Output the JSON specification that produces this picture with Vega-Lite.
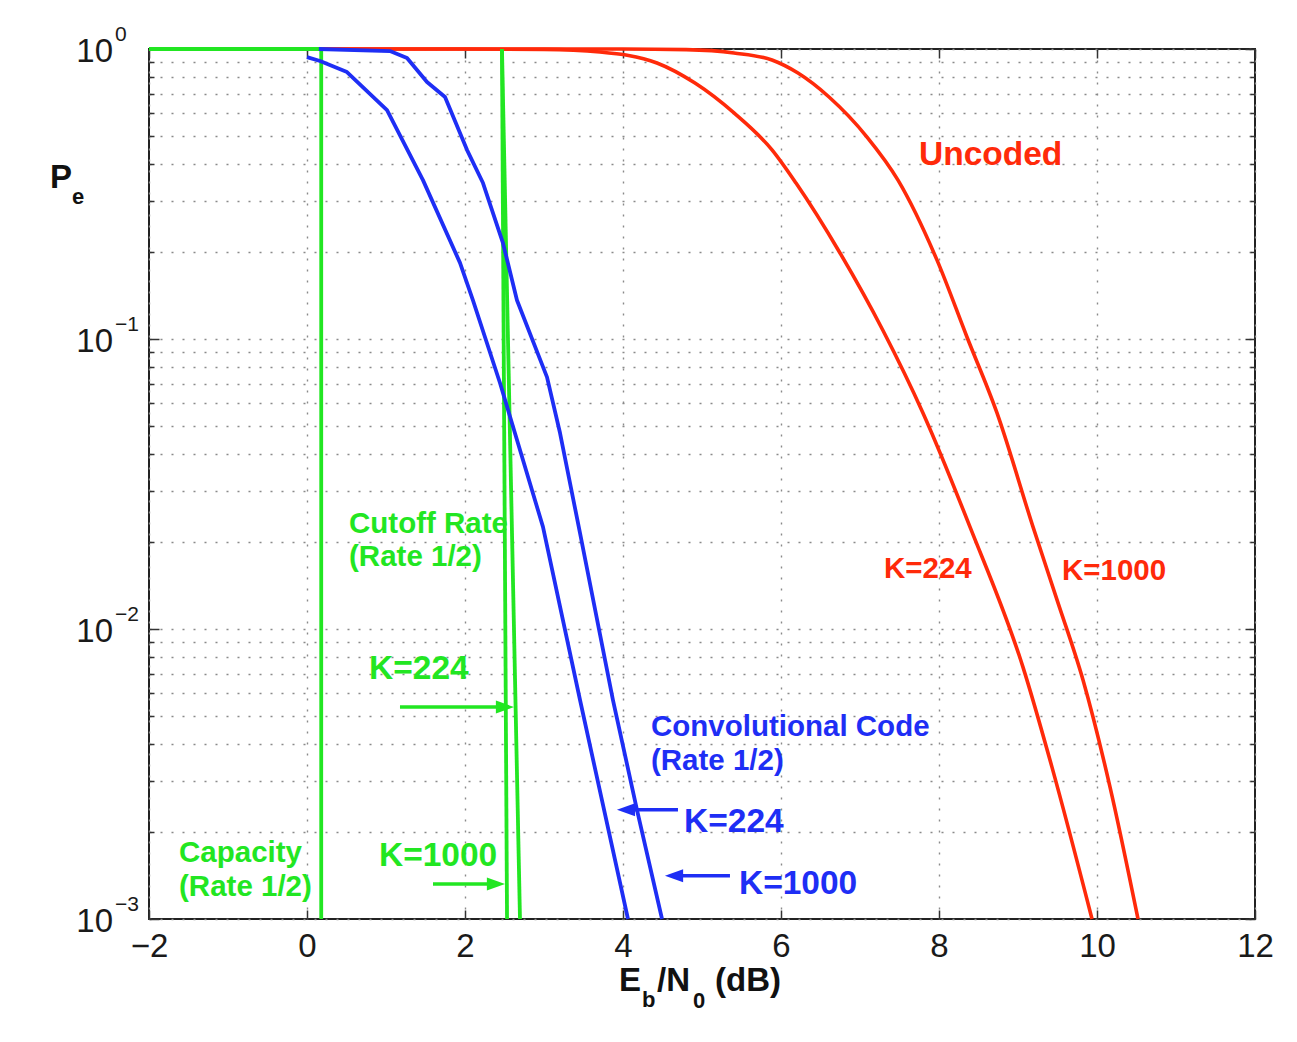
{
  "$schema": "https://vega.github.io/schema/vega-lite/v6.json",
  "width": 1106,
  "height": 870,
  "autosize": {"type": "none"},
  "padding": {"left": 149, "top": 49, "right": 42, "bottom": 123},
  "background": "white",
  "config": {
    "font": "Liberation Sans",
    "view": {"stroke": "#222222", "strokeWidth": 2},
    "axis": {"labelFont": "Liberation Sans", "domain": false}
  },
  "datasets": {
    "curves": [
      {"s": "unc224", "g": "red", "i": 0, "x": -2, "p": 1},
      {"s": "unc224", "g": "red", "i": 1, "x": 2, "p": 1},
      {"s": "unc224", "g": "red", "i": 2, "x": 3, "p": 0.997},
      {"s": "unc224", "g": "red", "i": 3, "x": 3.709, "p": 0.976},
      {"s": "unc224", "g": "red", "i": 4, "x": 4.43, "p": 0.895},
      {"s": "unc224", "g": "red", "i": 5, "x": 4.911, "p": 0.763},
      {"s": "unc224", "g": "red", "i": 6, "x": 5.405, "p": 0.602},
      {"s": "unc224", "g": "red", "i": 7, "x": 5.886, "p": 0.449},
      {"s": "unc224", "g": "red", "i": 8, "x": 6.19, "p": 0.345},
      {"s": "unc224", "g": "red", "i": 9, "x": 6.747, "p": 0.198},
      {"s": "unc224", "g": "red", "i": 10, "x": 7.291, "p": 0.107},
      {"s": "unc224", "g": "red", "i": 11, "x": 7.797, "p": 0.0556},
      {"s": "unc224", "g": "red", "i": 12, "x": 8.392, "p": 0.0225},
      {"s": "unc224", "g": "red", "i": 13, "x": 9.063, "p": 0.00739},
      {"s": "unc224", "g": "red", "i": 14, "x": 9.43, "p": 0.00334},
      {"s": "unc224", "g": "red", "i": 15, "x": 9.937, "p": 0.001},
      {"s": "unc1000", "g": "red", "i": 0, "x": -2, "p": 1},
      {"s": "unc1000", "g": "red", "i": 1, "x": 4, "p": 1},
      {"s": "unc1000", "g": "red", "i": 2, "x": 4.8, "p": 0.995},
      {"s": "unc1000", "g": "red", "i": 3, "x": 5.405, "p": 0.969},
      {"s": "unc1000", "g": "red", "i": 4, "x": 5.886, "p": 0.916},
      {"s": "unc1000", "g": "red", "i": 5, "x": 6.215, "p": 0.826},
      {"s": "unc1000", "g": "red", "i": 6, "x": 6.608, "p": 0.683},
      {"s": "unc1000", "g": "red", "i": 7, "x": 7.089, "p": 0.497},
      {"s": "unc1000", "g": "red", "i": 8, "x": 7.481, "p": 0.353},
      {"s": "unc1000", "g": "red", "i": 9, "x": 7.975, "p": 0.187},
      {"s": "unc1000", "g": "red", "i": 10, "x": 8.354, "p": 0.1016},
      {"s": "unc1000", "g": "red", "i": 11, "x": 8.734, "p": 0.0556},
      {"s": "unc1000", "g": "red", "i": 12, "x": 9.19, "p": 0.0225},
      {"s": "unc1000", "g": "red", "i": 13, "x": 9.494, "p": 0.0126},
      {"s": "unc1000", "g": "red", "i": 14, "x": 9.823, "p": 0.00667},
      {"s": "unc1000", "g": "red", "i": 15, "x": 10.165, "p": 0.00285},
      {"s": "unc1000", "g": "red", "i": 16, "x": 10.519, "p": 0.001},
      {"s": "cap", "g": "green", "i": 0, "x": -2, "p": 1},
      {"s": "cap", "g": "green", "i": 1, "x": 0.18, "p": 1},
      {"s": "cap", "g": "green", "i": 2, "x": 0.18, "p": 0.001},
      {"s": "cut1000", "g": "green", "i": 0, "x": 2.468, "p": 1},
      {"s": "cut1000", "g": "green", "i": 1, "x": 2.532, "p": 0.001},
      {"s": "cut224", "g": "green", "i": 0, "x": 2.468, "p": 1},
      {"s": "cut224", "g": "green", "i": 1, "x": 2.696, "p": 0.001},
      {"s": "conv224", "g": "blue", "i": 0, "x": 0, "p": 0.938},
      {"s": "conv224", "g": "blue", "i": 1, "x": 0.165, "p": 0.909},
      {"s": "conv224", "g": "blue", "i": 2, "x": 0.506, "p": 0.833},
      {"s": "conv224", "g": "blue", "i": 3, "x": 1.013, "p": 0.616},
      {"s": "conv224", "g": "blue", "i": 4, "x": 1.468, "p": 0.353},
      {"s": "conv224", "g": "blue", "i": 5, "x": 1.937, "p": 0.183},
      {"s": "conv224", "g": "blue", "i": 6, "x": 2.101, "p": 0.136},
      {"s": "conv224", "g": "blue", "i": 7, "x": 2.443, "p": 0.0705},
      {"s": "conv224", "g": "blue", "i": 8, "x": 2.987, "p": 0.0225},
      {"s": "conv224", "g": "blue", "i": 9, "x": 3.456, "p": 0.00569},
      {"s": "conv224", "g": "blue", "i": 10, "x": 4.063, "p": 0.001},
      {"s": "conv1000", "g": "blue", "i": 0, "x": 0.15, "p": 1},
      {"s": "conv1000", "g": "blue", "i": 1, "x": 1.05, "p": 0.984},
      {"s": "conv1000", "g": "blue", "i": 2, "x": 1.266, "p": 0.931},
      {"s": "conv1000", "g": "blue", "i": 3, "x": 1.519, "p": 0.769},
      {"s": "conv1000", "g": "blue", "i": 4, "x": 1.747, "p": 0.683},
      {"s": "conv1000", "g": "blue", "i": 5, "x": 2.025, "p": 0.449},
      {"s": "conv1000", "g": "blue", "i": 6, "x": 2.228, "p": 0.345},
      {"s": "conv1000", "g": "blue", "i": 7, "x": 2.481, "p": 0.214},
      {"s": "conv1000", "g": "blue", "i": 8, "x": 2.658, "p": 0.136},
      {"s": "conv1000", "g": "blue", "i": 9, "x": 3.038, "p": 0.0739},
      {"s": "conv1000", "g": "blue", "i": 10, "x": 3.203, "p": 0.0474},
      {"s": "conv1000", "g": "blue", "i": 11, "x": 3.456, "p": 0.0214},
      {"s": "conv1000", "g": "blue", "i": 12, "x": 3.873, "p": 0.00569},
      {"s": "conv1000", "g": "blue", "i": 13, "x": 4.177, "p": 0.00238},
      {"s": "conv1000", "g": "blue", "i": 14, "x": 4.494, "p": 0.001}
    ],
    "labels": [
      {"t": "Uncoded", "g": "red", "k": "big", "x": 7.747, "p": 0.398},
      {"t": "K=224", "g": "red", "k": "small", "x": 7.304, "p": 0.015},
      {"t": "K=1000", "g": "red", "k": "small", "x": 9.557, "p": 0.01476},
      {"t": "Convolutional Code", "g": "blue", "k": "small", "x": 4.354, "p": 0.00428},
      {"t": "(Rate 1/2)", "g": "blue", "k": "small", "x": 4.354, "p": 0.00327},
      {"t": "K=224", "g": "blue", "k": "big", "x": 4.772, "p": 0.001995},
      {"t": "K=1000", "g": "blue", "k": "big", "x": 5.468, "p": 0.00122},
      {"t": "Cutoff Rate", "g": "green", "k": "small", "x": 0.532, "p": 0.0214},
      {"t": "(Rate 1/2)", "g": "green", "k": "small", "x": 0.532, "p": 0.0165},
      {"t": "K=224", "g": "green", "k": "big", "x": 0.785, "p": 0.00673},
      {"t": "K=1000", "g": "green", "k": "big", "x": 0.911, "p": 0.00152},
      {"t": "Capacity", "g": "green", "k": "small", "x": -1.62, "p": 0.00157},
      {"t": "(Rate 1/2)", "g": "green", "k": "small", "x": -1.62, "p": 0.0012}
    ],
    "arrows": [
      {"g": "green", "dir": "right", "x": 1.177, "head": 2.506, "p": 0.00538},
      {"g": "green", "dir": "right", "x": 1.595, "head": 2.392, "p": 0.00132},
      {"g": "blue", "dir": "left", "x": 4.696, "head": 4.038, "p": 0.00238},
      {"g": "blue", "dir": "left", "x": 5.354, "head": 4.646, "p": 0.00141}
    ],
    "yticks": [
      {"p": 1, "e": "0"},
      {"p": 0.1, "e": "\u22121"},
      {"p": 0.01, "e": "\u22122"},
      {"p": 0.001, "e": "\u22123"}
    ],
    "titles": [
      {"t": "P", "k": "main", "x": -3.253, "p": 0.332},
      {"t": "e", "k": "sub", "x": -2.975, "p": 0.292},
      {"t": "E", "k": "main", "x": 3.949, "p": 0.000565},
      {"t": "b", "k": "sub", "x": 4.241, "p": 0.000497},
      {"t": "/N", "k": "main", "x": 4.43, "p": 0.000565},
      {"t": "0", "k": "sub", "x": 4.886, "p": 0.000493},
      {"t": "(dB)", "k": "main", "x": 5.165, "p": 0.000565}
    ]
  },
  "layer": [
    {
      "data": {"name": "curves"},
      "transform": [{"filter": "datum.g === 'red'"}],
      "mark": {"type": "line", "strokeWidth": 3.6, "interpolate": "monotone"},
      "encoding": {
        "x": {
          "field": "x", "type": "quantitative",
          "scale": {"domain": [-2, 12], "nice": false, "zero": false},
          "axis": {
            "orient": "bottom", "values": [-2, 0, 2, 4, 6, 8, 10, 12], "format": "d",
            "title": null, "grid": true, "gridDash": [2, 9], "gridColor": "#8a8a8a", "gridWidth": 1.4,
            "ticks": true, "tickSize": -9, "tickColor": "#333333", "tickWidth": 1.5,
            "labelFontSize": 33, "labelColor": "#1a1a1a", "labelPadding": 20, "labelFlush": false, "labelOverlap": false
          }
        },
        "y": {
          "field": "p", "type": "quantitative",
          "scale": {"type": "log", "domain": [0.001, 1], "nice": false},
          "axis": {
            "orient": "left", "title": null, "labels": false,
            "values": [0.001, 0.002, 0.003, 0.004, 0.005, 0.006, 0.007, 0.008, 0.009, 0.01, 0.02, 0.03, 0.04, 0.05, 0.06, 0.07, 0.08, 0.09, 0.1, 0.2, 0.3, 0.4, 0.5, 0.6, 0.7, 0.8, 0.9, 1],
            "grid": true, "gridDash": [2, 9], "gridColor": "#8a8a8a", "gridWidth": 1.4,
            "ticks": true, "tickColor": "#333333", "tickWidth": 1.5,
            "tickSize": {"condition": {"test": "indexof([1, 0.1, 0.01, 0.001], datum.value) >= 0", "value": -10}, "value": -5}
          }
        },
        "color": {
          "field": "g", "type": "nominal", "legend": null,
          "scale": {"domain": ["red", "blue", "green"], "range": ["#ff2a0a", "#1e2ef5", "#22e622"]}
        },
        "detail": {"field": "s"},
        "order": {"field": "i", "type": "quantitative"}
      }
    },
    {
      "data": {"name": "curves"},
      "transform": [{"filter": "datum.g !== 'red'"}],
      "mark": {"type": "line", "strokeWidth": 3.8, "strokeJoin": "round"},
      "encoding": {
        "x": {"field": "x", "type": "quantitative", "axis": null},
        "y": {"field": "p", "type": "quantitative", "axis": null},
        "color": {"field": "g", "type": "nominal", "legend": null},
        "detail": {"field": "s"},
        "order": {"field": "i", "type": "quantitative"}
      }
    },
    {
      "data": {"name": "arrows"},
      "mark": {"type": "rule", "strokeWidth": 3.5},
      "encoding": {
        "x": {
          "field": "x", "type": "quantitative",
          "axis": {
            "orient": "top", "values": [-2, 0, 2, 4, 6, 8, 10, 12], "title": null, "labels": false,
            "grid": false, "ticks": true, "tickSize": -9, "tickColor": "#333333", "tickWidth": 1.5
          }
        },
        "x2": {"field": "head"},
        "y": {
          "field": "p", "type": "quantitative",
          "axis": {
            "orient": "right", "title": null, "labels": false, "grid": false,
            "values": [0.001, 0.002, 0.003, 0.004, 0.005, 0.006, 0.007, 0.008, 0.009, 0.01, 0.02, 0.03, 0.04, 0.05, 0.06, 0.07, 0.08, 0.09, 0.1, 0.2, 0.3, 0.4, 0.5, 0.6, 0.7, 0.8, 0.9, 1],
            "ticks": true, "tickColor": "#333333", "tickWidth": 1.5,
            "tickSize": {"condition": {"test": "indexof([1, 0.1, 0.01, 0.001], datum.value) >= 0", "value": -10}, "value": -5}
          }
        },
        "color": {"field": "g", "type": "nominal", "legend": null}
      }
    },
    {
      "data": {"name": "arrows"},
      "mark": {"type": "point", "filled": true, "opacity": 1, "size": 330, "strokeWidth": 0},
      "encoding": {
        "x": {"field": "head", "type": "quantitative", "axis": null},
        "y": {"field": "p", "type": "quantitative", "axis": null},
        "color": {"field": "g", "type": "nominal", "legend": null},
        "shape": {
          "field": "dir", "type": "nominal", "legend": null,
          "scale": {"domain": ["right", "left"], "range": ["M-1,-0.72L1,0L-1,0.72Z", "M1,-0.72L-1,0L1,0.72Z"]}
        }
      }
    },
    {
      "data": {"name": "labels"},
      "transform": [{"filter": "datum.k === 'small'"}],
      "mark": {"type": "text", "align": "left", "baseline": "alphabetic", "fontSize": 29.5, "fontWeight": "bold", "font": "Liberation Sans"},
      "encoding": {
        "x": {"field": "x", "type": "quantitative", "axis": null},
        "y": {"field": "p", "type": "quantitative", "axis": null},
        "text": {"field": "t"},
        "color": {"field": "g", "type": "nominal", "legend": null}
      }
    },
    {
      "data": {"name": "labels"},
      "transform": [{"filter": "datum.k === 'big'"}],
      "mark": {"type": "text", "align": "left", "baseline": "alphabetic", "fontSize": 33.5, "fontWeight": "bold", "font": "Liberation Sans"},
      "encoding": {
        "x": {"field": "x", "type": "quantitative", "axis": null},
        "y": {"field": "p", "type": "quantitative", "axis": null},
        "text": {"field": "t"},
        "color": {"field": "g", "type": "nominal", "legend": null}
      }
    },
    {
      "data": {"name": "yticks"},
      "mark": {"type": "text", "align": "right", "baseline": "middle", "dx": -36, "dy": 3, "fontSize": 33, "color": "#1a1a1a", "font": "Liberation Sans"},
      "encoding": {
        "x": {"datum": -2, "type": "quantitative", "axis": null},
        "y": {"field": "p", "type": "quantitative", "axis": null},
        "text": {"value": "10"}
      }
    },
    {
      "data": {"name": "yticks"},
      "mark": {"type": "text", "align": "left", "baseline": "middle", "dx": -34, "dy": -14, "fontSize": 21, "color": "#1a1a1a", "font": "Liberation Sans"},
      "encoding": {
        "x": {"datum": -2, "type": "quantitative", "axis": null},
        "y": {"field": "p", "type": "quantitative", "axis": null},
        "text": {"field": "e"}
      }
    },
    {
      "data": {"name": "titles"},
      "transform": [{"filter": "datum.k === 'main'"}],
      "mark": {"type": "text", "align": "left", "baseline": "alphabetic", "fontSize": 33, "fontWeight": "bold", "color": "#111111", "font": "Liberation Sans"},
      "encoding": {
        "x": {"field": "x", "type": "quantitative", "axis": null},
        "y": {"field": "p", "type": "quantitative", "axis": null},
        "text": {"field": "t"}
      }
    },
    {
      "data": {"name": "titles"},
      "transform": [{"filter": "datum.k === 'sub'"}],
      "mark": {"type": "text", "align": "left", "baseline": "alphabetic", "fontSize": 22, "fontWeight": "bold", "color": "#111111", "font": "Liberation Sans"},
      "encoding": {
        "x": {"field": "x", "type": "quantitative", "axis": null},
        "y": {"field": "p", "type": "quantitative", "axis": null},
        "text": {"field": "t"}
      }
    }
  ],
  "resolve": {"axis": {"x": "independent", "y": "independent"}}
}
